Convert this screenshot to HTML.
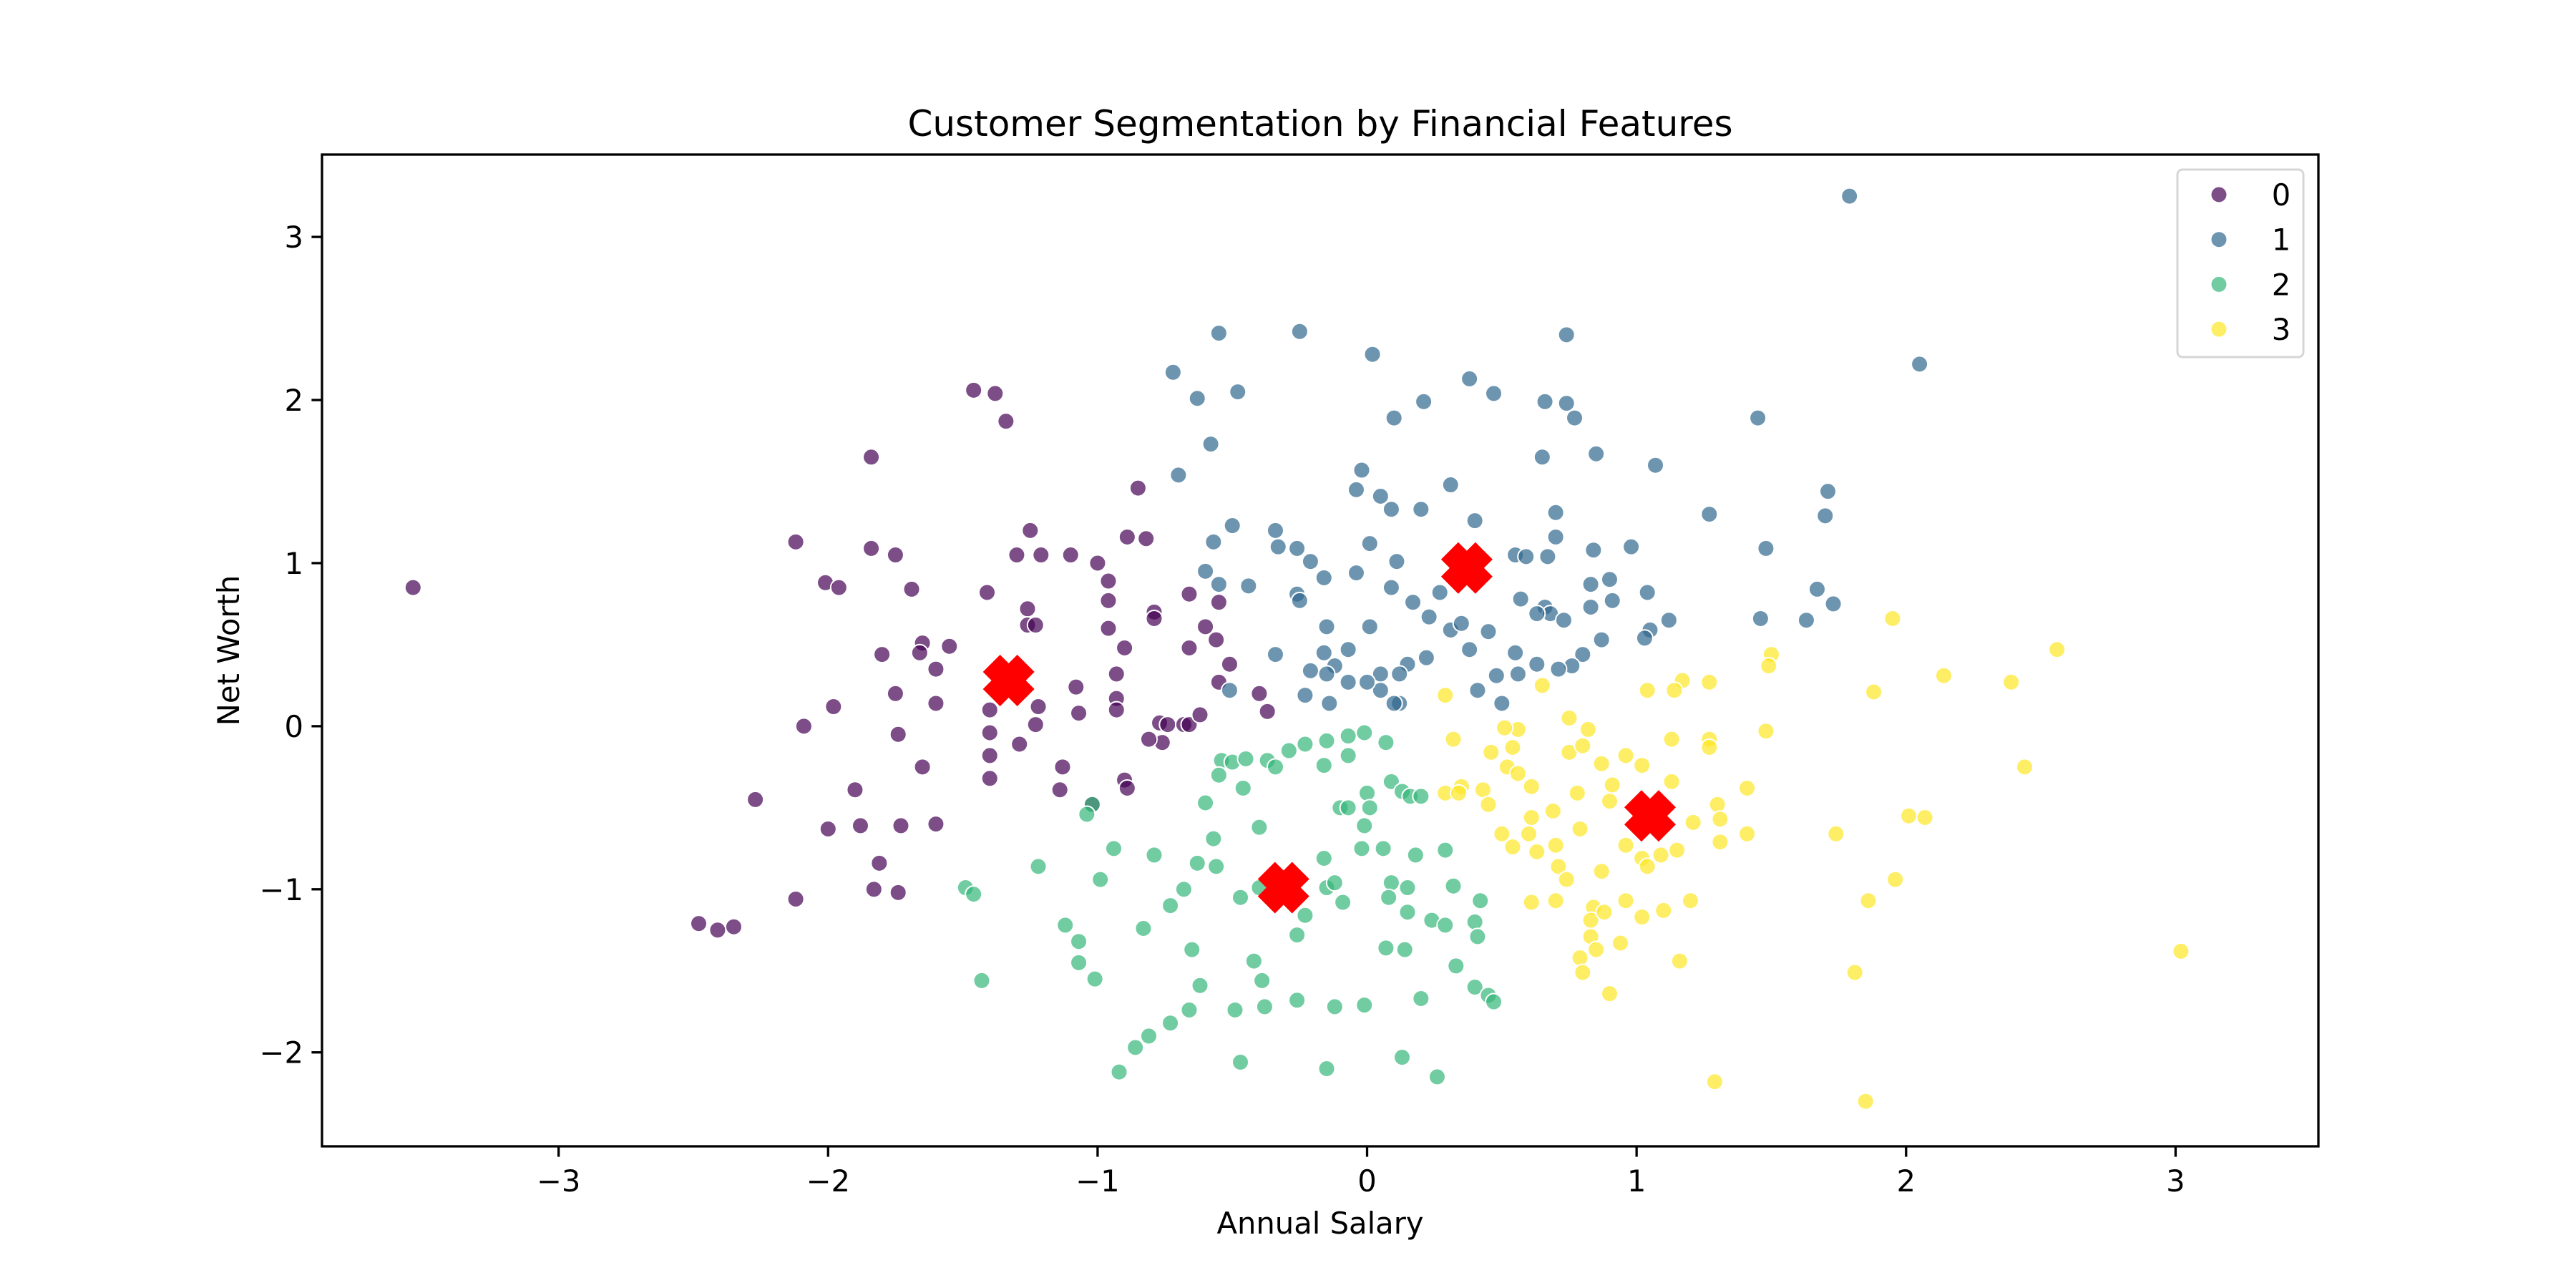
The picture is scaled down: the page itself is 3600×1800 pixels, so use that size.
<!DOCTYPE html>
<html><head><meta charset="utf-8"><style>
html,body{margin:0;padding:0;background:#fff;}
svg{display:block;font-family:"DejaVu Sans","Liberation Sans",sans-serif;}
</style></head><body>
<svg id="chart" width="3600" height="1800" viewBox="0 0 3600 1800" xmlns="http://www.w3.org/2000/svg">
<rect width="3600" height="1800" fill="#fff"/>
<text x="1845" y="190" font-size="50" text-anchor="middle">Customer Segmentation by Financial Features</text>
<text x="1845" y="1724" font-size="41.7" text-anchor="middle">Annual Salary</text>
<text x="0" y="0" font-size="41.7" text-anchor="middle" transform="translate(334,909) rotate(-90)">Net Worth</text>
<g id="ticks"></g>
<g id="pts"></g>
<g id="cents"></g>
<rect x="450" y="216" width="2790" height="1386" fill="none" stroke="#000" stroke-width="3.3"/>
<g id="legend">
<rect x="3043" y="237" width="176" height="262" rx="7" fill="#fff" fill-opacity="0.8" stroke="#d6d6d6" stroke-width="3"/>
</g>
</svg>
<script>
const xTicks=[-3,-2,-1,0,1,2,3];
const yTicks=[-2,-1,0,1,2,3];
const clusterLabels=["0","1","2","3"];
const clusterColors=["#440154","#31688e","#35b779","#fde725"];
const c0x=[-3.54,-1.46,-1.38,-1.34,-1.84,-2.12,-0.85,-1.25,-1.30,-1.21,-1.10,-1.0,-0.89,-0.82,-0.96,-0.96,-1.41,-1.69,-1.75,-1.84,-2.01,-1.96,-1.26,-1.26,-1.23,-0.79,-0.79,-0.66,-0.55,-0.60,-0.56,-0.66,-0.51,-0.55,-0.96,-0.90,-1.55,-1.65,-1.66,-1.80,-1.60,-1.75,-1.60,-1.98,-2.09,-1.74,-1.65,-1.90,-2.27,-2.0,-1.88,-1.73,-1.60,-1.81,-1.83,-1.74,-2.12,-2.48,-2.41,-2.35,-1.40,-1.40,-1.40,-1.40,-1.29,-1.23,-1.22,-1.07,-1.08,-1.14,-1.02,-0.93,-0.93,-0.93,-0.90,-0.89,-0.77,-0.76,-0.74,-0.68,-0.66,-0.62,-0.40,-0.37,-0.81,-1.13];
const c0y=[0.85,2.06,2.04,1.87,1.65,1.13,1.46,1.20,1.05,1.05,1.05,1.0,1.16,1.15,0.89,0.77,0.82,0.84,1.05,1.09,0.88,0.85,0.72,0.62,0.62,0.70,0.66,0.81,0.76,0.61,0.53,0.48,0.38,0.27,0.60,0.48,0.49,0.51,0.45,0.44,0.35,0.20,0.14,0.12,0.0,-0.05,-0.25,-0.39,-0.45,-0.63,-0.61,-0.61,-0.60,-0.84,-1.0,-1.02,-1.06,-1.21,-1.25,-1.23,0.1,-0.04,-0.18,-0.32,-0.11,0.01,0.12,0.08,0.24,-0.39,-0.48,0.32,0.17,0.10,-0.33,-0.38,0.02,-0.10,0.01,0.01,0.01,0.07,0.20,0.09,-0.08,-0.25];
const c1x=[1.79,2.05,1.45,-0.55,-0.25,0.02,-0.63,-0.72,0.38,0.47,0.21,0.10,-0.48,-0.70,-0.58,0.74,0.66,0.74,0.77,0.65,0.85,1.07,1.71,1.70,1.27,1.48,1.67,1.73,1.63,1.46,1.12,0.31,-0.02,-0.04,0.05,0.09,0.2,0.40,0.70,0.70,0.55,0.59,0.67,0.84,0.98,-0.50,-0.57,-0.34,-0.33,-0.26,-0.21,-0.16,-0.26,-0.25,-0.60,-0.44,-0.55,0.01,-0.04,0.11,0.27,0.17,0.09,0.31,0.23,0.35,0.38,0.45,0.57,0.66,0.68,0.63,0.73,0.83,0.91,0.83,0.90,1.04,1.05,1.03,0.87,0.80,0.76,0.71,0.63,0.55,0.56,0.48,0.50,0.41,0.22,0.15,0.12,0.05,0.05,0.12,0.10,-0.12,-0.07,0.0,-0.16,-0.21,-0.34,-0.15,-0.14,-0.23,-0.15,-0.07,-0.51,0.01];
const c1y=[3.25,2.22,1.89,2.41,2.42,2.28,2.01,2.17,2.13,2.04,1.99,1.89,2.05,1.54,1.73,2.40,1.99,1.98,1.89,1.65,1.67,1.60,1.44,1.29,1.30,1.09,0.84,0.75,0.65,0.66,0.65,1.48,1.57,1.45,1.41,1.33,1.33,1.26,1.31,1.16,1.05,1.04,1.04,1.08,1.1,1.23,1.13,1.20,1.10,1.09,1.01,0.91,0.81,0.77,0.95,0.86,0.87,1.12,0.94,1.01,0.82,0.76,0.85,0.59,0.67,0.63,0.47,0.58,0.78,0.73,0.69,0.69,0.65,0.73,0.77,0.87,0.90,0.82,0.59,0.54,0.53,0.44,0.37,0.35,0.38,0.45,0.32,0.31,0.14,0.22,0.42,0.38,0.32,0.32,0.22,0.14,0.14,0.37,0.27,0.27,0.45,0.34,0.44,0.32,0.14,0.19,0.61,0.47,0.22,0.61];
const c2x=[-0.07,-0.01,-0.15,0.07,-0.54,-0.50,-0.55,-0.45,-0.37,-0.29,-0.23,-0.16,-0.07,-0.46,-0.34,-0.60,-1.02,-1.04,-0.10,-0.07,0.0,0.01,0.09,0.13,0.16,0.2,0.06,-0.02,-0.01,-0.16,-0.94,-0.79,-0.40,-0.57,-0.56,-0.63,-1.22,-0.99,-0.68,-0.73,-0.47,-0.40,-0.35,-0.15,-0.12,-0.09,0.09,0.08,0.15,0.18,0.29,0.32,0.15,0.24,0.29,0.40,0.41,0.42,0.33,0.14,0.07,0.2,-0.01,-0.12,-0.26,-0.38,-0.39,-0.42,-0.23,-0.26,-0.49,-0.47,-0.15,0.13,0.26,0.40,0.45,0.47,-0.92,-0.86,-0.81,-0.73,-0.66,-0.62,-0.65,-0.83,-1.12,-1.07,-1.07,-1.01,-1.43,-1.49,-1.46];
const c2y=[-0.06,-0.04,-0.09,-0.1,-0.21,-0.22,-0.30,-0.2,-0.21,-0.15,-0.11,-0.24,-0.18,-0.38,-0.25,-0.47,-0.48,-0.54,-0.5,-0.5,-0.41,-0.5,-0.34,-0.4,-0.43,-0.43,-0.75,-0.75,-0.61,-0.81,-0.75,-0.79,-0.62,-0.69,-0.86,-0.84,-0.86,-0.94,-1.0,-1.10,-1.05,-0.99,-0.94,-0.99,-0.96,-1.08,-0.96,-1.05,-0.99,-0.79,-0.76,-0.98,-1.14,-1.19,-1.22,-1.2,-1.29,-1.07,-1.47,-1.37,-1.36,-1.67,-1.71,-1.72,-1.68,-1.72,-1.56,-1.44,-1.16,-1.28,-1.74,-2.06,-2.10,-2.03,-2.15,-1.60,-1.65,-1.69,-2.12,-1.97,-1.90,-1.82,-1.74,-1.59,-1.37,-1.24,-1.22,-1.32,-1.45,-1.55,-1.56,-0.99,-1.03];
const c3x=[1.95,2.56,2.39,2.14,1.88,1.50,1.49,1.48,2.44,2.01,2.07,1.74,1.41,1.41,1.31,1.96,1.86,1.81,3.02,1.85,1.29,1.30,1.31,1.27,1.27,1.27,1.17,1.14,1.04,1.13,1.02,1.13,0.96,0.87,0.82,0.65,0.75,0.75,0.80,0.56,0.51,0.54,0.52,0.46,0.32,0.29,0.35,0.29,0.34,0.43,0.45,0.56,0.61,0.61,0.69,0.60,0.50,0.54,0.63,0.70,0.71,0.79,0.90,0.78,0.91,0.96,1.02,1.04,1.09,1.15,1.21,0.87,0.70,0.61,0.74,0.84,0.83,0.83,0.85,0.79,0.80,0.90,0.88,0.96,1.02,1.10,1.20,1.16,0.94];
const c3y=[0.66,0.47,0.27,0.31,0.21,0.44,0.37,-0.03,-0.25,-0.55,-0.56,-0.66,-0.66,-0.38,-0.71,-0.94,-1.07,-1.51,-1.38,-2.30,-2.18,-0.48,-0.57,-0.08,-0.13,0.27,0.28,0.22,0.22,-0.08,-0.24,-0.34,-0.18,-0.23,-0.02,0.25,0.05,-0.16,-0.12,-0.02,-0.01,-0.13,-0.25,-0.16,-0.08,0.19,-0.37,-0.41,-0.41,-0.39,-0.48,-0.29,-0.37,-0.56,-0.52,-0.66,-0.66,-0.74,-0.77,-0.73,-0.86,-0.63,-0.46,-0.41,-0.36,-0.73,-0.81,-0.86,-0.79,-0.76,-0.59,-0.89,-1.07,-1.08,-0.94,-1.11,-1.19,-1.29,-1.37,-1.42,-1.51,-1.64,-1.14,-1.07,-1.17,-1.13,-1.07,-1.44,-1.33];
const centX=[-1.33,0.37,-0.31,1.05];
const centY=[0.28,0.97,-0.99,-0.55];

const NS="http://www.w3.org/2000/svg";
const X0=450,X1=3240,Y0=1602,Y1=216,XMIN=-3.878,XMAX=3.53,YMIN=-2.576,YMAX=3.505;
function sx(v){return X0+(v-XMIN)/(XMAX-XMIN)*(X1-X0);}
function sy(v){return Y0-(v-YMIN)/(YMAX-YMIN)*(Y0-Y1);}
function mk(tag,attrs,parent){const e=document.createElementNS(NS,tag);for(const k in attrs)e.setAttribute(k,attrs[k]);parent.appendChild(e);return e;}
const fmt=v=>v<0?"\u2212"+Math.abs(v):String(v);
const tg=document.getElementById('ticks');
xTicks.forEach(v=>{
  const l=mk('line',{x1:sx(v),x2:sx(v),y1:Y0,y2:Y0+14.6,stroke:'#000','stroke-width':3.3},tg);
  
  
  const t=mk('text',{x:sx(v),y:Y0+63,'font-size':41.7,'text-anchor':'middle'},tg);
  t.textContent=fmt(v);
  
  
});
yTicks.forEach(v=>{
  const l=mk('line',{x1:X0-14.6,x2:X0,y1:sy(v),y2:sy(v),stroke:'#000','stroke-width':3.3},tg);
  
  
  const t=mk('text',{x:X0-26,y:sy(v)+15,'font-size':41.7,'text-anchor':'end'},tg);
  t.textContent=fmt(v);
  
  
});
const pg=document.getElementById('pts');
const sets=[[c0x,c0y],[c1x,c1y],[c2x,c2y],[c3x,c3y]];
sets.forEach((s,ci)=>{
  s[0].forEach((xv,i)=>{
    const c=mk('circle',{cx:sx(xv),cy:sy(s[1][i]),r:11.5,fill:clusterColors[ci],'fill-opacity':0.7,stroke:'#fff','stroke-width':2},pg);
    
    
  });
});
const cg=document.getElementById('cents');
const xp="M-1,-3 L0,-2 L1,-3 L3,-1 L2,0 L3,1 L1,3 L0,2 L-1,3 L-3,1 L-2,0 L-3,-1 Z";
centX.forEach((xv,i)=>{
  const p=mk('path',{d:xp,fill:'#ff0000',transform:`translate(${sx(xv)},${sy(centY[i])}) scale(12)`},cg);
  
  
});
const lg=document.getElementById('legend');
clusterLabels.forEach((lab,i)=>{
  const y=272+i*62.7;
  const c=mk('circle',{cx:3101,cy:y,r:11.5,fill:clusterColors[i],'fill-opacity':0.7,stroke:'#fff','stroke-width':2},lg);
  
  
  const t=mk('text',{x:3188,y:y+15,'font-size':41.7,'text-anchor':'middle'},lg);
  t.textContent=lab;
  
  
});
</script>
</body></html>
